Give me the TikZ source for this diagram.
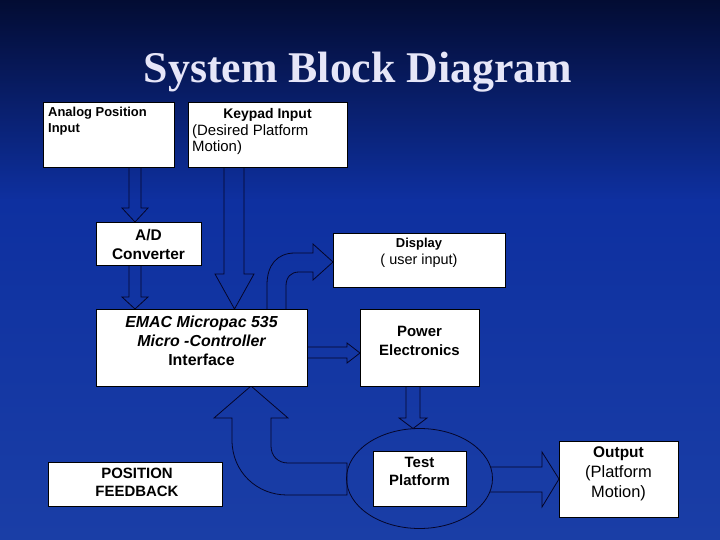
\documentclass[tikz,border=0pt]{standalone}
\usepackage{fontspec}
\setmainfont{Liberation Serif}
\setsansfont{Liberation Sans}
\usetikzlibrary{shapes.geometric}
\definecolor{bgtop}{HTML}{030C33}
\definecolor{bgmid}{HTML}{0E30A0}
\definecolor{bgbot}{HTML}{1A3EA6}
\definecolor{arrowline}{HTML}{050528}
\definecolor{titlecol}{HTML}{E6E6F8}
\tikzset{block/.style={draw=black,fill=white,line width=0.6pt,inner sep=0pt}}
\tikzset{boxtext/.style={inner sep=0pt,align=center,anchor=north,text=black}}
\tikzset{flow/.style={draw=arrowline,line width=0.8pt,line join=miter}}
\newcommand{\fsz}[2]{\fontsize{#1}{#2}\selectfont}

\begin{document}
\begin{tikzpicture}[x=1bp,y=-1bp]
    % background
    \shade[top color=bgtop,bottom color=bgmid] (0,0) rectangle (720,201);
    \shade[top color=bgmid,bottom color=bgbot] (0,200) rectangle (720,540);
    \useasboundingbox (0,0) rectangle (720,540);

    % title
    \node[anchor=base,inner sep=0pt,text=titlecol,font=\rmfamily\bfseries\fsz{44}{50}] (title) at (358,83) {System Block Diagram};

    % block arrows
    \draw[flow] (129,167) -- (129,208) -- (122,208) -- (135,222) -- (148,208) -- (141,208) -- (141,167);
    \draw[flow] (129,265) -- (129,297) -- (122,297) -- (135,309) -- (148,297) -- (141,297) -- (141,265);
    \draw[flow] (224,167) -- (224,274) -- (215,274) -- (234.5,309) -- (254,274) -- (244,274) -- (244,167);
    \draw[flow] (267,309) -- (267,285) .. controls (267,265) and (277,253) .. (295,253) -- (313,253) -- (313,244)
        -- (333,262) -- (313,280) -- (313,272) -- (299,272) .. controls (291,272) and (286,277) .. (286,286) -- (286,309);
    \draw[flow] (307,347) -- (347,347) -- (347,343) -- (360,353) -- (347,363) -- (347,358) -- (307,358);
    \draw[flow] (406,386) -- (406,418) -- (399,418) -- (413,428.5) -- (427,418) -- (420,418) -- (420,386);
    \draw[flow] (490,467) -- (542,467) -- (542,452) -- (559,479) -- (542,507) -- (542,492) -- (490,492);
    \draw[flow] (347,463) -- (288,463) .. controls (278,463) and (271,456) .. (271,446) -- (271,418) -- (288,418)
        -- (251,386) -- (214,418) -- (232,418) -- (232,440) .. controls (232,472) and (257,495) .. (287,495) -- (347,495) -- cycle;

    % boxes
    \node[block,minimum width=131bp,minimum height=65bp] (analog) at (108.5,134.5) {};
    \node[block,minimum width=159bp,minimum height=65bp] (keypad) at (267.5,134.5) {};
    \node[block,minimum width=105bp,minimum height=43bp] (ad) at (148.5,243.5) {};
    \node[block,minimum width=211bp,minimum height=77bp] (emac) at (201.5,347.5) {};
    \node[block,minimum width=172bp,minimum height=54bp] (display) at (419,260) {};
    \node[block,minimum width=119bp,minimum height=77bp] (power) at (419.5,347.5) {};
    \node[block,minimum width=174bp,minimum height=44bp] (feedback) at (135,484) {};
    \node[draw=arrowline,line width=0.8pt,ellipse,inner sep=0pt,minimum width=146bp,minimum height=100bp] (platform) at (419.5,478.5) {};
    \node[block,minimum width=93bp,minimum height=55bp] (test) at (419.5,478.5) {};
    \node[block,minimum width=119bp,minimum height=76bp] (output) at (618.5,479) {};

    % texts
    \node[boxtext,anchor=north west,align=left,font=\sffamily\bfseries\fsz{13}{16}] (analogtxt) at (48,107) {Analog Position\\Input};
    \node[boxtext,font=\sffamily\bfseries\fsz{14}{16}] (keypadtxt) at (267.5,108) {Keypad Input};
    \node[boxtext,anchor=north west,align=left,font=\sffamily\fsz{15}{17}] (keypadsub) at (192,124) {(Desired Platform\\Motion)};
    \node[boxtext,font=\sffamily\bfseries\fsz{15.5}{19}] (adtxt) at (148.5,229) {A/D\\Converter};
    \node[boxtext,font=\sffamily\fsz{14.5}{17}] (displaytxt) at (419,238) {{\bfseries\fsz{13}{17}Display}\\( user input)};
    \node[boxtext,font=\sffamily\bfseries\fsz{16}{19}] (emactxt) at (201.5,316)
        {\itshape EMAC Micropac 535\\\itshape Micro -Controller\\Interface};
    \node[boxtext,font=\sffamily\bfseries\fsz{15}{19}] (powertxt) at (419.5,326) {Power\\Electronics};
    \node[boxtext,font=\sffamily\bfseries\fsz{15}{18}] (testtxt) at (419.5,457) {Test\\Platform};
    \node[boxtext,font=\sffamily\bfseries\fsz{15}{18}] (feedbacktxt) at (137,468) {POSITION\\FEEDBACK};
    \node[boxtext,font=\sffamily\fsz{16.5}{20}] (outputtxt) at (618.5,447) {{\bfseries\fsz{15.5}{20}Output}\\(Platform\\Motion)};
\end{tikzpicture}
\end{document}
